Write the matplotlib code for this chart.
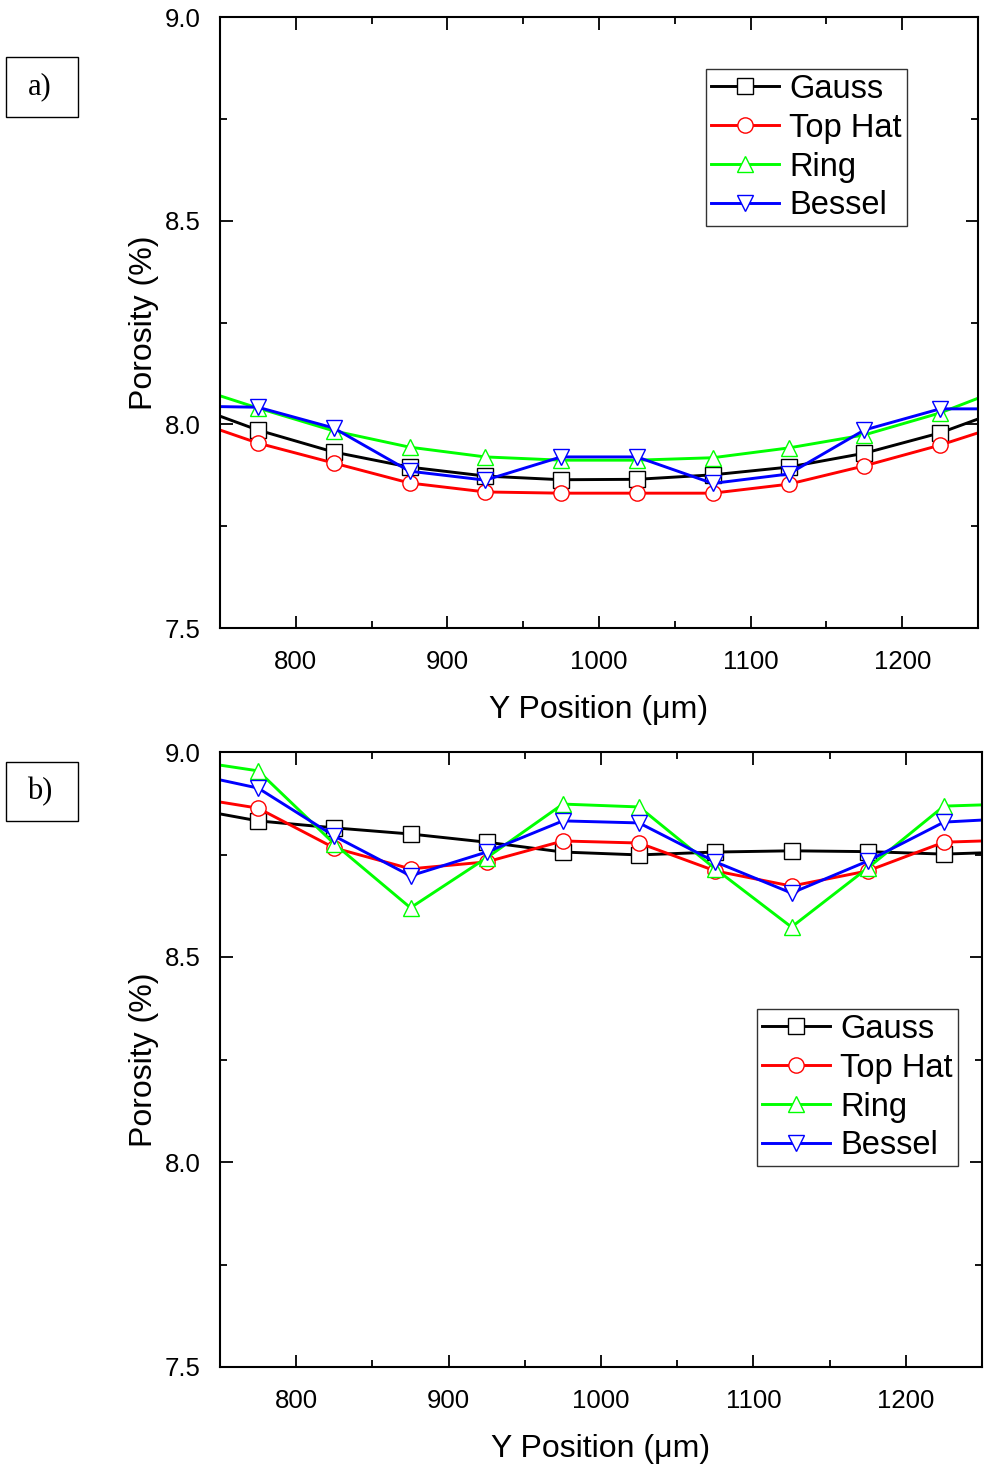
import matplotlib
matplotlib.use('Agg')
import matplotlib.pyplot as plt
from matplotlib.ticker import MultipleLocator, FormatStrFormatter
from matplotlib.patches import Rectangle

plt.rcParams['font.family'] = ['Liberation Sans', 'DejaVu Sans']

# --- Data ---
y_pos = [725, 775, 825, 875, 925, 975, 1025, 1075, 1125, 1175, 1225, 1275]

# a) panel
gauss_a = [8.054, 7.986, 7.932, 7.895, 7.873, 7.864, 7.865, 7.876, 7.895, 7.929, 7.979, 8.047]
tophat_a = [8.018, 7.954, 7.905, 7.856, 7.834, 7.831, 7.831, 7.831, 7.853, 7.898, 7.949, 8.009]
ring_a = [8.100, 8.040, 7.984, 7.944, 7.920, 7.912, 7.912, 7.918, 7.942, 7.974, 8.028, 8.100]
bessel_a = [8.045, 8.042, 7.991, 7.885, 7.863, 7.920, 7.920, 7.855, 7.878, 7.986, 8.038, 8.038]

# b) panel
gauss_b = [8.866, 8.832, 8.815, 8.800, 8.780, 8.756, 8.749, 8.756, 8.759, 8.757, 8.751, 8.757]
tophat_b = [8.893, 8.863, 8.766, 8.715, 8.732, 8.783, 8.778, 8.710, 8.673, 8.710, 8.780, 8.786]
ring_b = [8.982, 8.954, 8.776, 8.620, 8.742, 8.873, 8.866, 8.715, 8.573, 8.717, 8.868, 8.874]
bessel_b = [8.952, 8.912, 8.795, 8.698, 8.756, 8.832, 8.827, 8.732, 8.656, 8.734, 8.829, 8.839]

series_names = ['Gauss', 'Top Hat', 'Ring', 'Bessel']
colors = ['black', '#ff0000', '#00ff00', '#0000ff']
markers = ['s', 'o', '^', 'v']

W, H = 984, 1469
fig = plt.figure(figsize=(W / 100, H / 100), dpi=100)


def box(l, r, t, b):
    return [l / W, 1 - b / H, (r - l) / W, (b - t) / H]


def draw_panel(ax, data, legend_loc):
    for vals, name, c, m in zip(data, series_names, colors, markers):
        ax.plot(y_pos, vals, color=c, lw=2.1, marker=m, markersize=11,
                markerfacecolor='white', markeredgecolor=c, markeredgewidth=1.0,
                label=name)
    ax.set_xlim(750, 1250)
    ax.set_ylim(7.5, 9.0)
    ax.xaxis.set_major_locator(MultipleLocator(100))
    ax.xaxis.set_minor_locator(MultipleLocator(50))
    ax.yaxis.set_major_locator(MultipleLocator(0.5))
    ax.yaxis.set_minor_locator(MultipleLocator(0.25))
    ax.yaxis.set_major_formatter(FormatStrFormatter('%.1f'))
    ax.tick_params(which='both', direction='in', top=True, right=True,
                   labelsize=18.5, width=1.3)
    ax.tick_params(which='major', length=9)
    ax.tick_params(which='minor', length=5)
    ax.tick_params(axis='x', which='major', pad=16)
    ax.tick_params(axis='y', which='major', pad=14)
    for sp in ax.spines.values():
        sp.set_linewidth(1.5)
    ax.set_xlabel('Y Position (μm)', fontsize=23, labelpad=15)
    ax.set_ylabel('Porosity (%)', fontsize=23, labelpad=4)
    leg = ax.legend(loc='upper left', bbox_to_anchor=legend_loc, fontsize=23.5,
                    frameon=True, fancybox=False, edgecolor='black',
                    handlelength=2.1, handletextpad=0.3, labelspacing=0.24,
                    borderpad=0.15, borderaxespad=0)
    leg.get_frame().set_linewidth(1.0)


ax1 = fig.add_axes(box(220, 978, 17, 628))
draw_panel(ax1, [gauss_a, tophat_a, ring_a, bessel_a],
           ((706 - 220) / (978 - 220), (628 - 69) / (628 - 17)))

ax2 = fig.add_axes(box(220, 982, 752, 1367))
draw_panel(ax2, [gauss_b, tophat_b, ring_b, bessel_b],
           ((757 - 220) / (982 - 220), (1367 - 1009) / (1367 - 752)))

# panel labels in fixed boxes
for lab, top, bot in [('a)', 57, 117), ('b)', 762, 821)]:
    fig.patches.append(Rectangle((6 / W, 1 - bot / H), 72 / W, (bot - top) / H,
                                 transform=fig.transFigure, facecolor='white',
                                 edgecolor='black', linewidth=1.0))
    fig.text(40 / W, 1 - (top + bot) / 2 / H, lab, fontsize=22,
             family='Liberation Serif', ha='center', va='center')

fig.savefig('out.png', dpi=100)
